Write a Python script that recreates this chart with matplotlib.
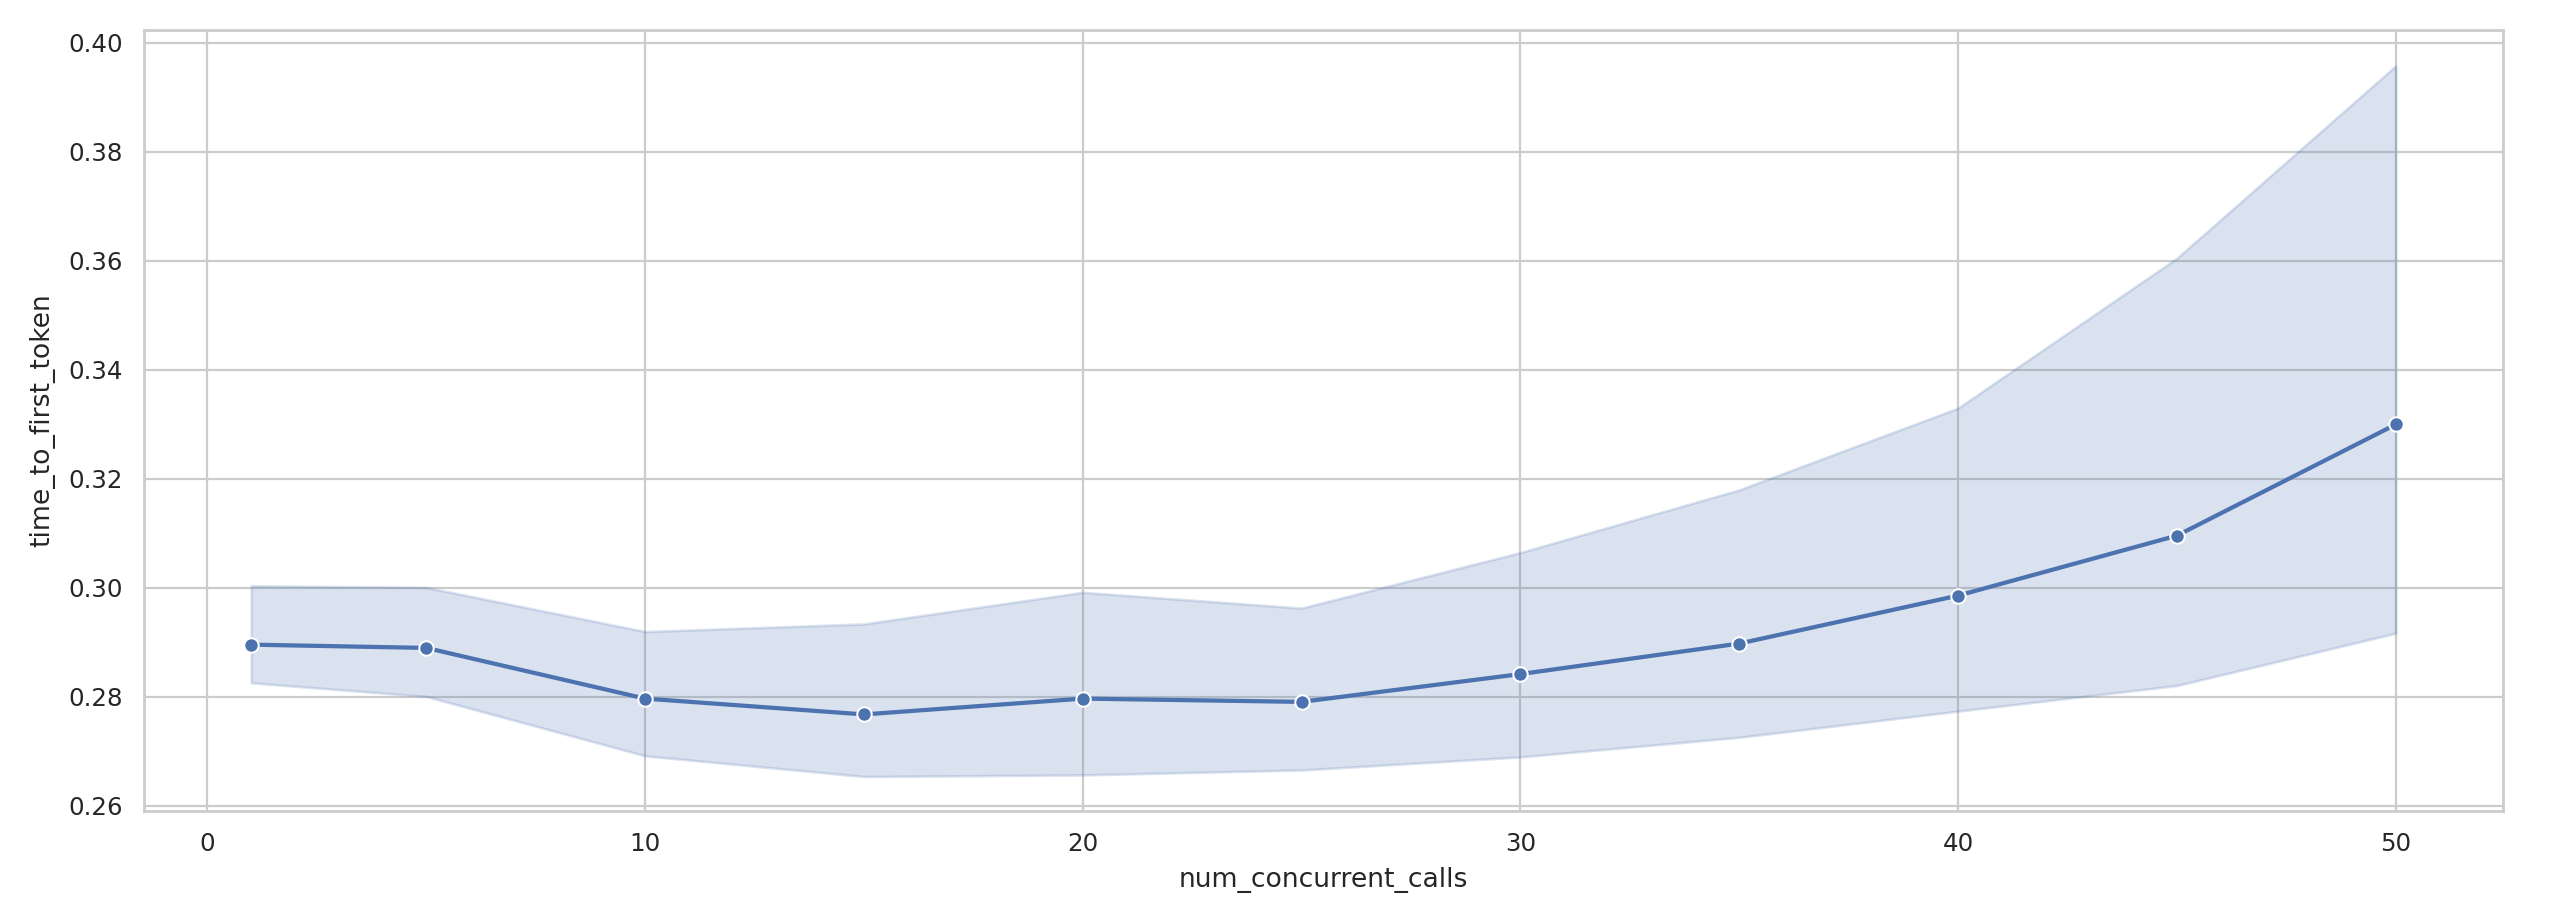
import matplotlib
matplotlib.use("Agg")
import matplotlib.pyplot as plt
import seaborn as sns

num_concurrent_calls = [1, 5, 10, 15, 20, 25, 30, 35, 40, 45, 50]
time_to_first_token = [0.2896, 0.2890, 0.2797, 0.2768, 0.2797, 0.2791, 0.2842, 0.2898, 0.2986, 0.3096, 0.3300]
ci_upper = [0.3004, 0.3001, 0.2920, 0.2934, 0.2992, 0.2963, 0.3065, 0.3180, 0.3330, 0.3605, 0.3958]
ci_lower = [0.2826, 0.2801, 0.2692, 0.2654, 0.2657, 0.2666, 0.2690, 0.2726, 0.2774, 0.2821, 0.2917]

sns.set_theme(style="whitegrid")
color = sns.color_palette("deep")[0]

fig, ax = plt.subplots(figsize=(16, 5.6625), dpi=160)
fig.subplots_adjust(left=0.05625, right=0.9777, top=0.967, bottom=0.105)

ax.fill_between(num_concurrent_calls, ci_lower, ci_upper, color=color, alpha=0.2, linewidth=1.2)
ax.plot(num_concurrent_calls, time_to_first_token, color=color, marker="o",
        markeredgecolor="white", markeredgewidth=0.9, markersize=6.5, linewidth=1.9)

ax.set_xlabel("num_concurrent_calls", labelpad=5)
ax.set_ylabel("time_to_first_token", labelpad=6)
ax.set_yticks([0.26, 0.28, 0.30, 0.32, 0.34, 0.36, 0.38, 0.40])
ax.set_yticklabels([f"{v:.2f}" for v in [0.26, 0.28, 0.30, 0.32, 0.34, 0.36, 0.38, 0.40]])
ax.set_xticks([0, 10, 20, 30, 40, 50])
ax.set_xlim(-1.45, 52.45)
ax.set_ylim(0.2591, 0.4024)

fig.savefig("out.png", dpi=160)
